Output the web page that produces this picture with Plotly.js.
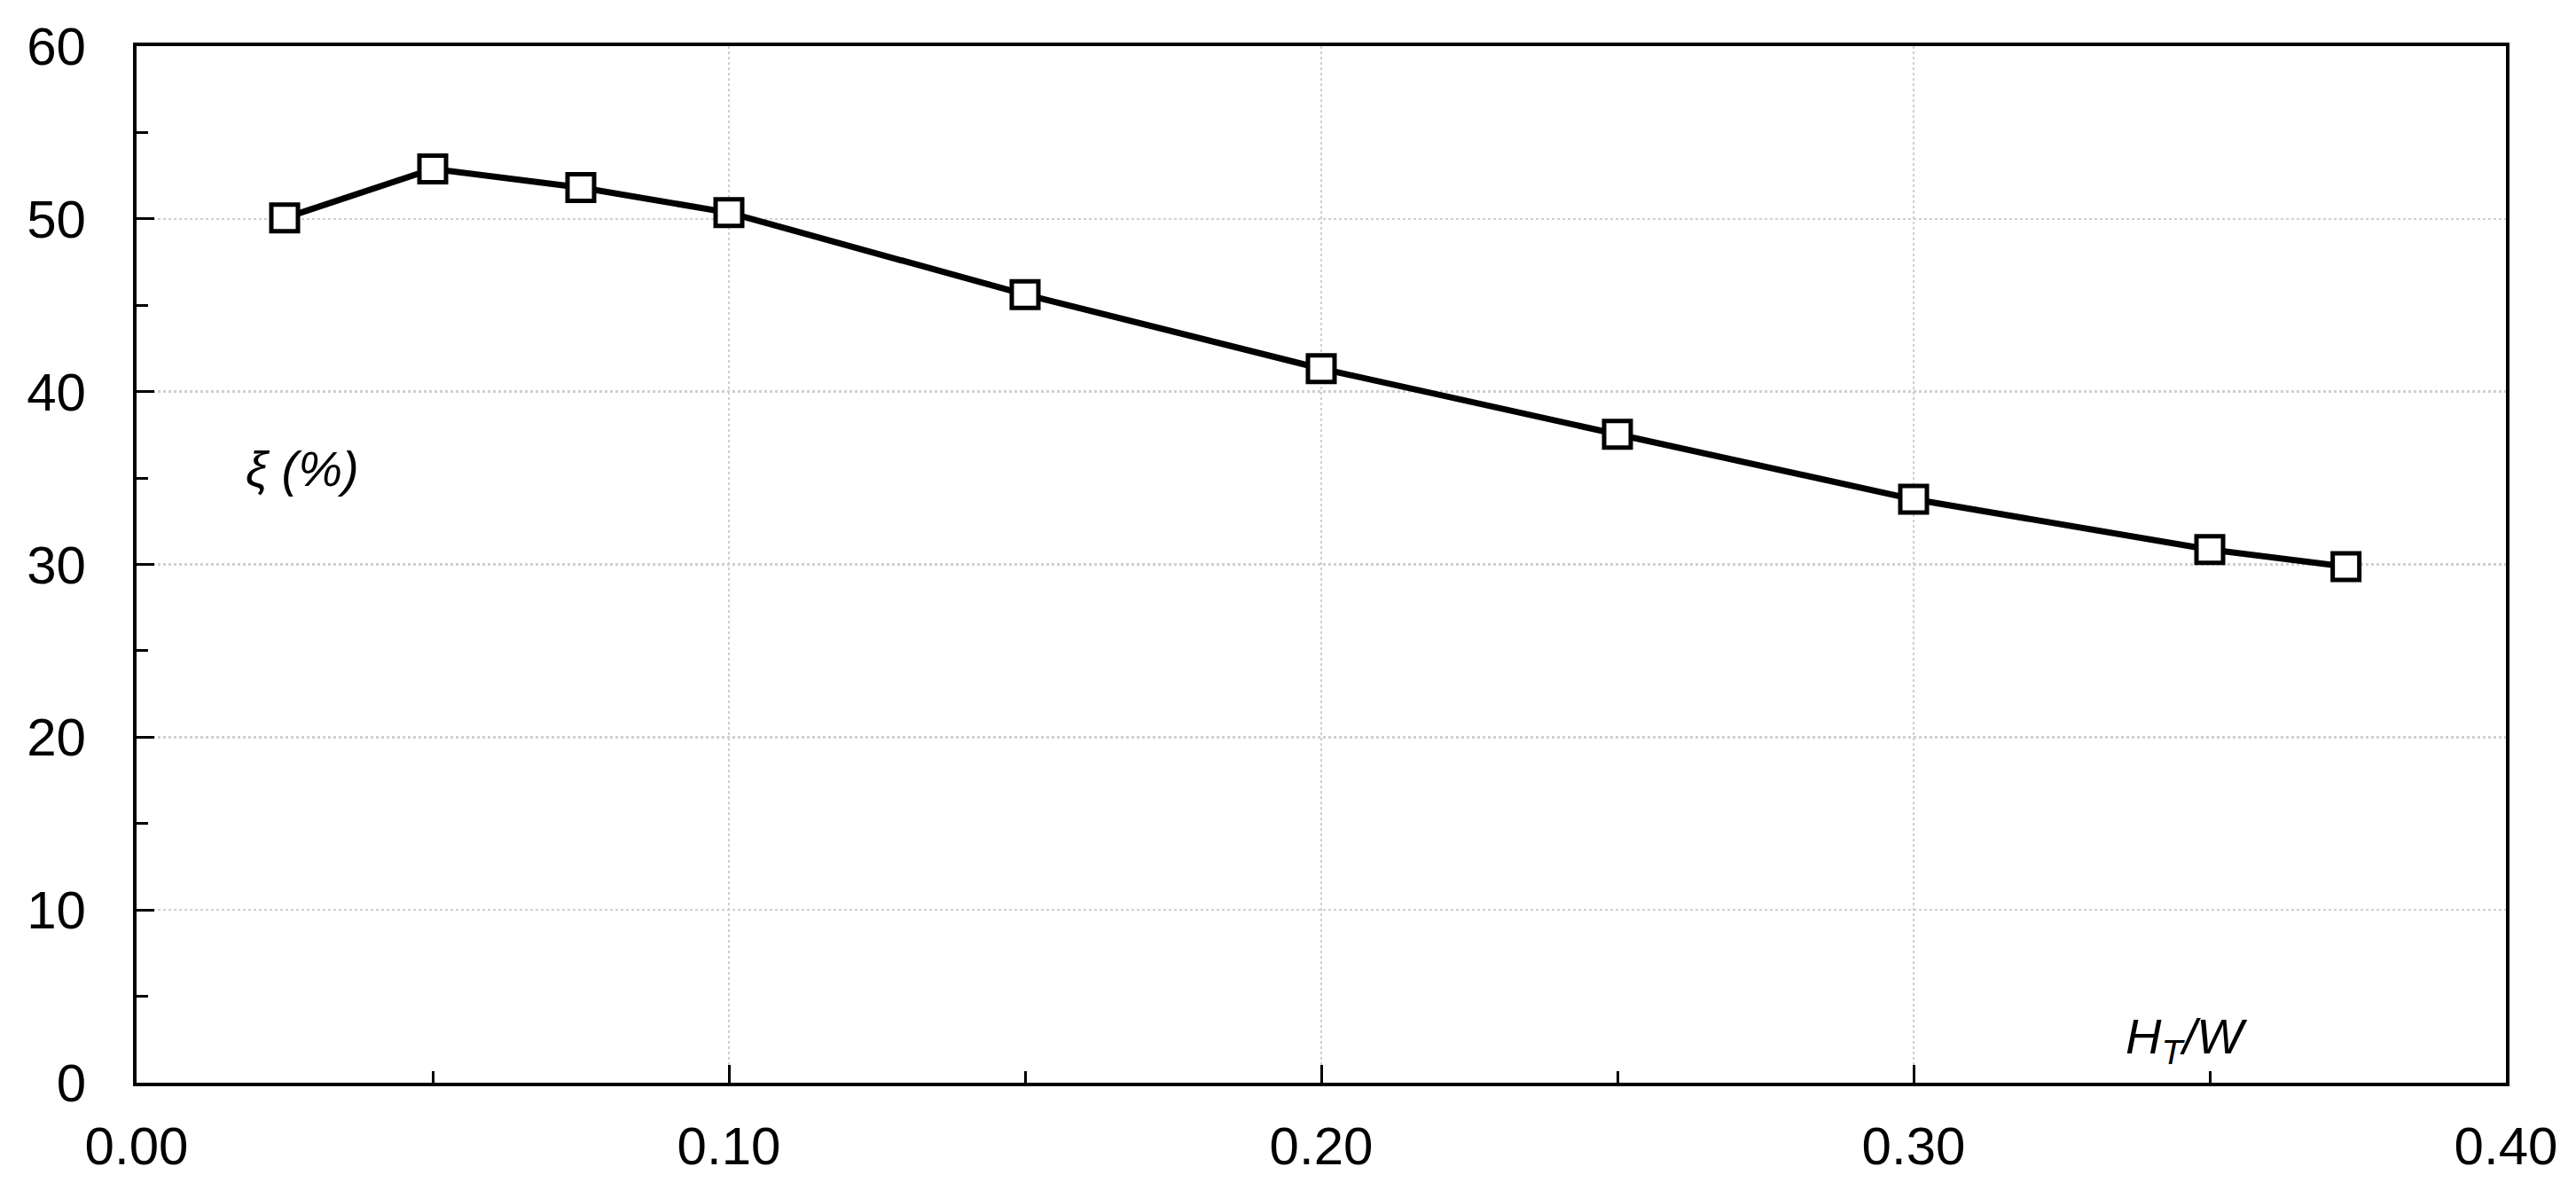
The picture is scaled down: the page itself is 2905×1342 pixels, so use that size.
<!DOCTYPE html>
<html>
<head>
<meta charset="utf-8">
<script src="https://cdn.plot.ly/plotly-3.0.1.min.js"></script>
<style>html,body{margin:0;padding:0;background:#fff;}#chart{width:2905px;height:1342px;}</style>
</head>
<body>
<div id="chart"></div>
<script>
const htw = [0.025, 0.05, 0.075, 0.10, 0.15, 0.20, 0.25, 0.30, 0.35, 0.373];
const xi = [50.05, 52.89, 51.81, 50.36, 45.62, 41.33, 37.53, 33.77, 30.86, 29.87];
const xTickVals = [0.0, 0.1, 0.2, 0.3, 0.4];
const xTickText = ["0.00", "0.10", "0.20", "0.30", "0.40"];
const yTickVals = [0, 10, 20, 30, 40, 50, 60];
const yTickText = ["0", "10", "20", "30", "40", "50", "60"];

const trace = {
  x: htw, y: xi, type: 'scatter', mode: 'lines+markers',
  line: {color: '#000', width: 7},
  marker: {symbol: 'square', size: 30, color: '#fff', line: {color: '#000', width: 5}},
  showlegend: false, hoverinfo: 'skip'
};

const axisFont = {family: 'Liberation Sans, Arial, sans-serif', size: 60, color: '#000'};

const layout = {
  width: 2905, height: 1342,
  margin: {l: 154, r: 79, t: 52, b: 121, pad: 0},
  paper_bgcolor: '#fff', plot_bgcolor: '#fff',
  xaxis: {
    range: [0, 0.4], tickmode: 'array', tickvals: xTickVals, ticktext: xTickText,
    ticks: 'inside', ticklen: 20, tickwidth: 3, tickcolor: '#000',
    minor: {dtick: 0.05, ticks: 'inside', ticklen: 13, tickwidth: 3, tickcolor: '#000', showgrid: false},
    showline: true, linecolor: '#000', linewidth: 4, mirror: true,
    showgrid: true, gridcolor: '#cfcfcf', gridwidth: 2.5, griddash: 'dot',
    zeroline: false, tickfont: axisFont, ticklabelstandoff: 16
  },
  yaxis: {
    range: [0, 60], tickmode: 'array', tickvals: yTickVals, ticktext: yTickText,
    ticks: 'inside', ticklen: 20, tickwidth: 3, tickcolor: '#000',
    minor: {dtick: 5, ticks: 'inside', ticklen: 13, tickwidth: 3, tickcolor: '#000', showgrid: false},
    showline: true, linecolor: '#000', linewidth: 4, mirror: true,
    showgrid: true, gridcolor: '#cfcfcf', gridwidth: 2.5, griddash: 'dot',
    zeroline: false, tickfont: axisFont, ticklabelstandoff: 41
  },
  annotations: [
    {xref: 'paper', yref: 'paper', x: (341-154)/2672, y: (1221-528)/1169,
     text: '<i>ξ (%)</i>', showarrow: false, xanchor: 'center', yanchor: 'middle',
     font: {family: 'Liberation Sans, Arial, sans-serif', size: 56, color: '#000'}},
    {xref: 'paper', yref: 'paper', x: (2466-154)/2672, y: (1221-1172)/1169,
     text: '<i>H<sub>T</sub>/W</i>', showarrow: false, xanchor: 'center', yanchor: 'middle',
     font: {family: 'Liberation Sans, Arial, sans-serif', size: 56, color: '#000'}}
  ]
};

Plotly.newPlot('chart', [trace], layout, {staticPlot: true, displayModeBar: false});
</script>
</body>
</html>
